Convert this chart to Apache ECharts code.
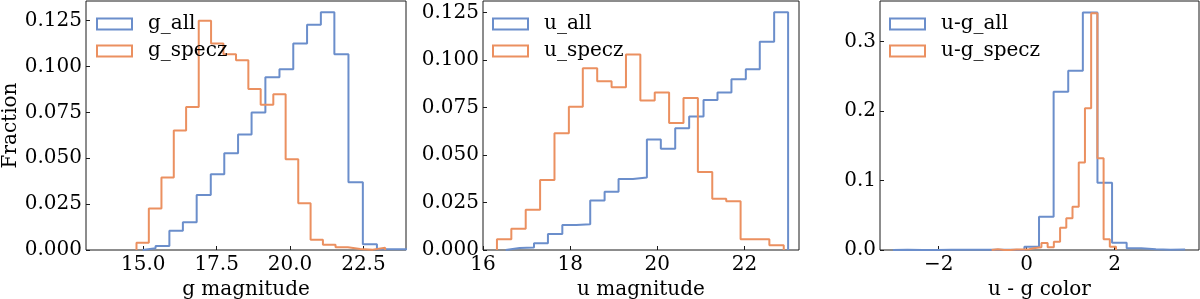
<!DOCTYPE html>
<html>
<head>
<meta charset="utf-8">
<script src="https://cdn.jsdelivr.net/npm/echarts@6/dist/echarts.min.js"></script>
<style>
html,body{margin:0;padding:0;background:#fff;}
#chart{width:1200px;height:299px;}
</style>
</head>
<body>
<div id="chart"></div>
<script>
// ---------- data ----------
const gAllEdges = [14.98,15.42,15.89,16.35,16.82,17.30,17.76,18.23,18.69,19.16,19.64,20.11,20.58,21.05,21.51,21.99,22.48,22.96,23.41,23.88,24.35];
const gAllFrac  = [0.0009,0.0022,0.0105,0.0151,0.0300,0.0413,0.0527,0.0630,0.0750,0.0941,0.0985,0.1125,0.1227,0.1296,0.1067,0.0369,0.0032,0.0004,0.0004,0.0003];
const gSpeczEdges = [14.77,15.19,15.62,16.04,16.46,16.89,17.31,17.73,18.16,18.58,19.00,19.43,19.85,20.28,20.70,21.12,21.55,21.97,22.39,22.82,23.24];
const gSpeczFrac  = [0.0040,0.0226,0.0395,0.0651,0.0780,0.1249,0.1125,0.1067,0.1034,0.0878,0.0792,0.0849,0.0495,0.0255,0.0056,0.0029,0.0015,0.0005,0.0002,0.0012];

const uAllEdges = [16.52,16.84,17.17,17.49,17.82,18.14,18.46,18.79,19.11,19.44,19.76,20.08,20.41,20.73,21.06,21.38,21.70,22.03,22.35,22.68,23.00];
const uAllFrac  = [0.0010,0.0013,0.0035,0.0084,0.0132,0.0135,0.0260,0.0307,0.0374,0.0382,0.0582,0.0533,0.0640,0.0702,0.0789,0.0828,0.0898,0.0951,0.1096,0.1251];
const uSpeczEdges = [16.32,16.65,16.98,17.31,17.64,17.97,18.29,18.62,18.95,19.28,19.61,19.94,20.27,20.60,20.93,21.26,21.58,21.91,22.24,22.57,22.90];
const uSpeczFrac  = [0.0056,0.0112,0.0212,0.0368,0.0614,0.0754,0.0956,0.0888,0.0856,0.1028,0.0786,0.0828,0.0668,0.0800,0.0411,0.0270,0.0256,0.0056,0.0056,0.0025];

const ugAllEdges = [-3.040,-2.708,-2.376,-2.044,-1.712,-1.380,-1.048,-0.716,-0.384,-0.052,0.280,0.612,0.944,1.276,1.608,1.940,2.272,2.604,2.936,3.268,3.600];
const ugAllFrac  = [0.0003,0,0,0.0002,0.0002,0.0003,0.0002,0.0002,0,0.0048,0.048,0.228,0.258,0.342,0.097,0.0106,0.0024,0.0010,0.0003,0.0006];
const ugSpeczEdges = [-0.796,-0.655,-0.513,-0.372,-0.231,-0.089,0.052,0.193,0.335,0.476,0.617,0.759,0.900,1.041,1.183,1.324,1.465,1.607,1.748,1.889,2.030];
const ugSpeczFrac  = [0.0012,0,0,0.0006,0.0006,0.0010,0.0030,0.0038,0.0100,0.0038,0.0120,0.0320,0.0456,0.0624,0.1260,0.2040,0.3410,0.1320,0.0154,0.0048];

const gXTicks  = [15.0,17.5,20.0,22.5];
const uXTicks  = [16,18,20,22];
const ugXTicks = [-2,0,2];
const magYTicks = [0,0.025,0.05,0.075,0.1,0.125];
const ugYTicks  = [0,0.1,0.2,0.3];

const names = ['g_all','g_specz','u_all','u_specz','u-g_all','u-g_specz'];
const xTitles = ['g magnitude','u magnitude','u - g color'];
const yTitle = 'Fraction';

// ---------- styling ----------
const BLUE = '#6b8ecb';
const ORANGE = '#eb9060';
const FONT = 'DejaVu Serif';
const FS = 20;

function stepPoints(edges, vals){
  const pts = [[edges[0], 0]];
  for (let i = 0; i < vals.length; i++){
    pts.push([edges[i], vals[i]]);
    pts.push([edges[i+1], vals[i]]);
  }
  pts.push([edges[vals.length], 0]);
  return pts;
}

const grids = [
  {left:86, top:1, width:320, height:249},
  {left:483, top:1, width:316, height:249},
  {left:880, top:1, width:319, height:249}
].map(g => Object.assign(g, {show:true, borderColor:'#1a1a1a', borderWidth:1, backgroundColor:'transparent', containLabel:false, outerBoundsMode:'none'}));

function xAxis(idx, min, max, ticks, fmt, title){
  return {
    type:'value', gridIndex:idx, min:min, max:max,
    axisLine:{show:false, onZero:false},
    splitLine:{show:false},
    axisTick:{show:true, inside:true, length:4, customValues:ticks, lineStyle:{color:'#1a1a1a', width:1}},
    axisLabel:{customValues:ticks, formatter:fmt, fontFamily:FONT, fontSize:FS, color:'#000', margin:5},
    name:title, nameLocation:'middle', nameGap:23,
    nameTextStyle:{fontFamily:FONT, fontSize:FS, color:'#000'}
  };
}
function yAxis(idx, min, max, ticks, fmt, title){
  const a = {
    type:'value', gridIndex:idx, min:min, max:max,
    axisLine:{show:false, onZero:false},
    splitLine:{show:false},
    axisTick:{show:true, inside:true, length:4, customValues:ticks, lineStyle:{color:'#1a1a1a', width:1}},
    axisLabel:{customValues:ticks, formatter:fmt, fontFamily:FONT, fontSize:FS, color:'#000', margin:4}
  };
  if (title){
    a.name = title; a.nameLocation = 'middle'; a.nameGap = 62;
    a.nameTextStyle = {fontFamily:FONT, fontSize:FS, color:'#000'};
  }
  return a;
}

const f1 = v => v.toFixed(1);
const f0 = v => String(v);
const fu = v => (v < 0 ? '\u2212' + Math.abs(v) : String(v));
const f3 = v => v.toFixed(3);

function line(name, idx, edges, vals, color){
  return {
    name:name, type:'line', xAxisIndex:idx, yAxisIndex:idx,
    data:stepPoints(edges, vals), showSymbol:false, symbol:'none',
    lineStyle:{color:color, width:2}, itemStyle:{color:color},
    clip:true, silent:true, animation:false, z:2
  };
}

function legend(left, n1, n2){
  return {
    left:left, top:9, orient:'vertical', itemWidth:35, itemHeight:11, itemGap:7,
    selectedMode:false,
    textStyle:{fontFamily:FONT, fontSize:FS, color:'#000', padding:[0,0,0,11]},
    data:[
      {name:n1, icon:'rect', itemStyle:{color:'rgba(255,255,255,0)', borderColor:BLUE, borderWidth:2}},
      {name:n2, icon:'rect', itemStyle:{color:'rgba(255,255,255,0)', borderColor:ORANGE, borderWidth:2}}
    ]
  };
}

const chart = echarts.init(document.getElementById('chart'), null, {renderer:'canvas'});
chart.setOption({
  animation:false,
  backgroundColor:'#fff',
  grid:grids,
  xAxis:[
    xAxis(0, 13.05, 23.95, gXTicks, f1, xTitles[0]),
    xAxis(1, 16, 23.25, uXTicks, f0, xTitles[1]),
    xAxis(2, -3.334, 3.916, ugXTicks, fu, xTitles[2])
  ],
  yAxis:[
    yAxis(0, 0, 0.1357, magYTicks, f3, yTitle),
    yAxis(1, 0, 0.1310, magYTicks, f3, null),
    yAxis(2, 0, 0.3586, ugYTicks, f1, null)
  ],
  legend:[
    legend(91, names[0], names[1]),
    legend(487, names[2], names[3]),
    legend(884, names[4], names[5])
  ],
  series:[
    line(names[0], 0, gAllEdges, gAllFrac, BLUE),
    line(names[1], 0, gSpeczEdges, gSpeczFrac, ORANGE),
    line(names[2], 1, uAllEdges, uAllFrac, BLUE),
    line(names[3], 1, uSpeczEdges, uSpeczFrac, ORANGE),
    line(names[4], 2, ugAllEdges, ugAllFrac, BLUE),
    line(names[5], 2, ugSpeczEdges, ugSpeczFrac, ORANGE)
  ]
});
</script>
</body>
</html>
